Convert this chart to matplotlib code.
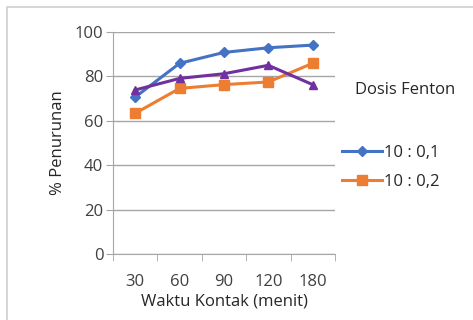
import numpy as np
import matplotlib.pyplot as plt
from matplotlib.patches import Rectangle

waktu = ["30", "60", "90", "120", "180"]
dosis_01 = [70.7, 85.9, 90.8, 92.9, 94.1]
dosis_02 = [63.4, 74.6, 76.3, 77.5, 85.9]
dosis_03 = [73.9, 79.1, 81.2, 85.0, 76.3]

plt.rcParams['font.family'] = ['Open Sans', 'DejaVu Sans']

fig = plt.figure(figsize=(4.73, 3.2), dpi=100)
ax = fig.add_axes([0.239, 0.206, 0.469, 0.694])

x = np.arange(len(waktu))
ax.plot(x, dosis_01, color="#4472C4", marker="D", markersize=5, lw=2.2, label="10 : 0,1")
ax.plot(x, dosis_02, color="#ED7D31", marker="s", markersize=7, lw=2.2, label="10 : 0,2")
ax.plot(x, dosis_03, color="#7030A0", marker="^", markersize=6, lw=2.2, label="_nolegend_")

ax.set_xlim(-0.5, len(waktu) - 0.5)
ax.set_ylim(0, 100)
ax.set_yticks(range(0, 101, 20))
ax.set_xticks(x)
ax.set_xticklabels(waktu)
ax.set_xticks(np.arange(-0.5, len(waktu), 1), minor=True)
ax.tick_params(axis="x", which="major", length=0, pad=14, labelsize=12, colors="#404040")
ax.tick_params(axis="x", which="minor", length=5, color="#A6A6A6")
ax.tick_params(axis="y", length=5, color="#A6A6A6", labelsize=12, labelcolor="#404040", pad=2)
ax.grid(axis="y", color="#A6A6A6", lw=1)
ax.set_axisbelow(True)
for s in ["top", "right"]:
    ax.spines[s].set_visible(False)
ax.spines["left"].set_color("#A6A6A6")
ax.spines["bottom"].set_color("#A6A6A6")

ax.set_xlabel("Waktu Kontak (menit)", fontsize=12, color="#262626", labelpad=3)
ax.set_ylabel("% Penurunan", fontsize=12, color="#262626", labelpad=6)

fig.text(0.857, 0.72, "Dosis Fenton", fontsize=12, color="#262626", ha="center", va="center")
leg = ax.legend(loc="upper left", bbox_to_anchor=(0.98, 0.545), frameon=False,
                fontsize=12, handlelength=2.4, handletextpad=0.1, labelspacing=0.78,
                borderaxespad=0.3)
for t in leg.get_texts():
    t.set_color("#262626")

fig.patches.append(Rectangle((0.014, -0.1), 1.2, 1.078, transform=fig.transFigure,
                             fill=False, edgecolor="#D0D0D0", lw=1.2))

fig.savefig("out.png", dpi=100)
